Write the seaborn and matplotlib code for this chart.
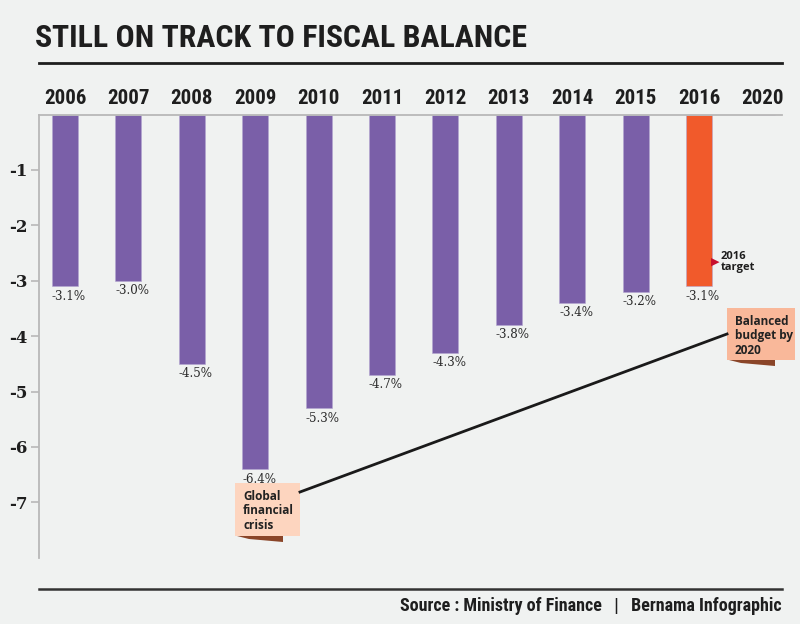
import matplotlib
matplotlib.use("Agg")
import matplotlib.pyplot as plt
from matplotlib import font_manager
from matplotlib.patches import Rectangle, Polygon
from matplotlib.lines import Line2D
import pandas as pd
import seaborn as sns

# data
years = ["2006", "2007", "2008", "2009", "2010", "2011",
         "2012", "2013", "2014", "2015", "2016", "2020"]
balance = [-3.1, -3.0, -4.5, -6.4, -5.3, -4.7, -4.3, -3.8, -3.4, -3.2, -3.1, 0.0]
bar_labels = ["-3.1%", "-3.0%", "-4.5%", "-6.4%", "-5.3%", "-4.7%",
              "-4.3%", "-3.8%", "-3.4%", "-3.2%", "-3.1%", ""]
y_ticks = [-1, -2, -3, -4, -5, -6, -7]

PURPLE = "#7a5fa8"
ORANGE = "#f15a2b"
BG = "#f0f2f1"

installed = {f.name for f in font_manager.fontManager.ttflist}


def pick(*names):
    for n in names:
        if n in installed:
            return n
    return "DejaVu Sans"


COND = pick("Liberation Sans Narrow", "DejaVu Sans Condensed", "Roboto Condensed", "Liberation Sans")
SANS = pick("Open Sans", "Noto Sans", "DejaVu Sans")
SERIF = pick("DejaVu Serif", "Liberation Serif")

W, H = 800, 624


def px(x, y):
    return (x / W, 1 - y / H)


df = pd.DataFrame({"year": years, "balance": balance})
colors = [ORANGE if y == "2016" else PURPLE for y in years]

fig = plt.figure(figsize=(8, 6.24), dpi=100, facecolor=BG)
ax = fig.add_axes([39 / W, 1 - 557.7 / H, (782 - 39) / W, (557.7 - 114.5) / H])
ax.set_facecolor(BG)

sns.barplot(data=df, x="year", y="balance", hue="year", palette=colors,
            legend=False, width=0.41, saturation=1, ax=ax,
            edgecolor="#b3a5d0", linewidth=0.4)

ax.set_ylim(-8, 0)
ax.set_xlim(-0.41, 11.31)
ax.set_xlabel("")
ax.set_ylabel("")

# bar value labels, left-aligned under each bar
for i, (v, lab) in enumerate(zip(balance, bar_labels)):
    if lab:
        ax.annotate(lab, xy=(i - 0.205, v), xytext=(0, -2.5), textcoords="offset points",
                    ha="left", va="top", fontsize=8.6, family=SERIF, color="#2a2a2a")

ax.xaxis.tick_top()
ax.tick_params(axis="x", length=0, pad=5)
for t in ax.get_xticklabels():
    t.set_fontfamily(COND)
    t.set_fontweight("bold")
    t.set_fontsize(15)
    t.set_color("#1e1e1e")

ax.set_yticks(y_ticks)
ax.set_yticklabels([str(v) for v in y_ticks])
ax.tick_params(axis="y", length=6, width=1.2, color="#b8b8b8", pad=2)
for t in ax.get_yticklabels():
    t.set_fontfamily(SERIF)
    t.set_fontweight("bold")
    t.set_fontsize(12)
    t.set_color("#1e1e1e")

for side in ["right", "bottom"]:
    ax.spines[side].set_visible(False)
for side in ["left", "top"]:
    ax.spines[side].set_color("#b8b8b8")
    ax.spines[side].set_linewidth(1.3)

# title and rules
fig.text(*px(35, 38), "STILL ON TRACK TO FISCAL BALANCE", ha="left", va="center",
         fontsize=22.9, fontweight="bold", family=COND, color="#1e1e1e")
fig.add_artist(Line2D([39 / W, 782 / W], [1 - 63 / H] * 2, color="#1e1e1e", lw=2))
fig.add_artist(Line2D([39 / W, 782 / W], [1 - 589 / H] * 2, color="#333333", lw=1.8))
fig.text(*px(782, 606), "Source : Ministry of Finance   |   Bernama Infographic",
         ha="right", va="center", fontsize=13, fontweight="bold", family=COND,
         color="#1e1e1e")

# 2016 target marker
fig.text(*px(715, 262), "\u25B6", ha="center", va="center", fontsize=8,
         color="#c8102e", family="DejaVu Sans")
fig.text(*px(721, 262), "2016\ntarget", ha="left", va="center", fontsize=8,
         fontweight="bold", family=SANS, color="#1e1e1e", linespacing=0.95)

# connector line
fig.add_artist(Line2D([300 / W, 727 / W], [1 - 492 / H, 1 - 334 / H],
                      color="#1a1a1a", lw=2))


def note(x0, y0, x1, y1, face, text):
    sx = [px(x0 + 2, y1), px(x0 + 48, y1), px(x0 + 48, y1 + 6), px(x0 + 14, y1 + 3)]
    fig.add_artist(Polygon(sx, closed=True, facecolor="#8a4528", edgecolor="none"))
    bx, by = px(x0, y1)
    fig.add_artist(Rectangle((bx, by), (x1 - x0) / W, (y1 - y0) / H,
                             facecolor=face, edgecolor="none"))
    fig.text(*px(x0 + 8, y0 + 7), text, ha="left", va="top", fontsize=8.5,
             fontweight="bold", family=SANS, color="#222222", linespacing=1.15)


note(235, 483, 300, 536, "#fdd5bf", "Global\nfinancial\ncrisis")
note(727, 308, 795, 360, "#f9b89a", "Balanced\nbudget by\n2020")

fig.savefig("out.png", dpi=100, facecolor=BG)
